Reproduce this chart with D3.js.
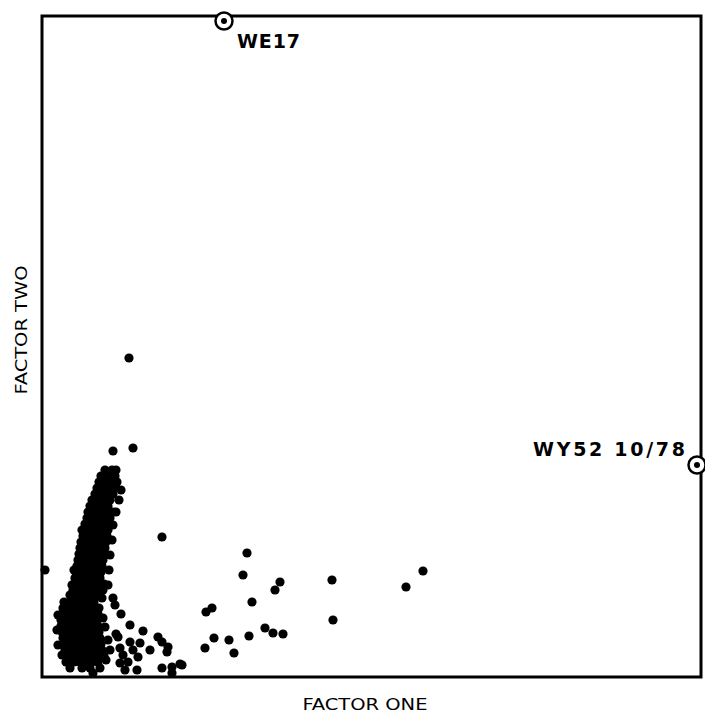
<!DOCTYPE html>
<html>
<head>
<meta charset="utf-8">
<script src="https://cdn.jsdelivr.net/npm/d3@7"></script>
<style>
  body { margin: 0; background: #fff; }
  .axislabel { font-family: "Liberation Sans Narrow", "DejaVu Sans Condensed", sans-serif; font-size: 16px; fill: #000; }
  .tag { font-family: "DejaVu Sans", sans-serif; font-weight: bold; font-size: 19px; fill: #000; }
</style>
</head>
<body>
<script>
// Factor scores (x100)

// dense column of samples, left side
var mainCluster = [
  [63,207],[70,207],[74,207],
  [59,201],[66,201],[73,201],
  [57,195],[63,195],[69,195],[75,195],
  [55,189],[61,189],[68,189],[73,189],[79,187],
  [53,183],[59,183],[65,183],[71,183],
  [50,177],[56,177],[62,177],[68,177],[77,177],
  [48,171],[54,171],[60,171],[66,171],
  [46,165],[52,165],[58,165],[64,165],[71,165],[74,165],
  [45,159],[51,159],[57,159],[63,159],[68,159],
  [43,153],[49,153],[55,153],[61,153],[67,153],[71,152],
  [42,147],[48,147],[54,147],[60,147],[66,147],[40,147],
  [41,141],[47,141],[53,141],[59,141],[65,141],[70,137],
  [39,135],[45,135],[51,135],[57,135],[64,135],
  [38,129],[44,129],[50,129],[56,129],[63,129],
  [37,123],[43,123],[49,123],[55,123],[62,123],[68,122],
  [36,117],[42,117],[48,117],[54,117],[61,117],
  [35,111],[41,111],[47,111],[53,111],[60,111],[32,107],[67,107],
  [34,105],[40,105],[46,105],[52,105],[59,105],
  [33,99],[39,99],[45,99],[51,99],[58,99],
  [32,93],[38,93],[44,93],[50,93],[57,93],[62,93],[30,92],[66,92],
  [31,87],[37,87],[43,87],[49,87],[56,87],[61,87],
  [31,81],[37,81],[43,81],[49,81],[55,81],[28,82],
  [22,75],[28,75],[34,75],[40,75],[46,75],[52,75],
  [21,69],[27,69],[33,69],[39,69],[45,69],[51,69],[57,69],
  [20,63],[26,63],[32,63],[38,63],[44,63],[50,63],[56,63],[16,62],
  [19,57],[25,57],[31,57],[37,57],[43,57],[49,57],[55,57],
  [19,51],[25,51],[31,51],[37,51],[43,51],[49,51],[56,51],
  [20,45],[26,45],[32,45],[38,45],[44,45],[50,45],[57,45],[15,47],
  [21,39],[27,39],[33,39],[39,39],[45,39],[51,39],[58,39],[66,37],
  [22,33],[28,33],[34,33],[40,33],[46,33],[52,33],[59,33],[16,32],
  [23,27],[29,27],[35,27],[41,27],[47,27],[53,27],[60,27],[68,27],
  [26,21],[32,21],[38,21],[44,21],[50,21],[56,21],[62,21],[20,22],
  [32,15],[38,15],[44,15],[50,15],[56,15],[24,15],[64,17],
  [40,9],[48,9],[51,4],[28,9],[58,9]
];

// samples trailing off to the lower right of the column
var trailPoints = [
  [60,79],[71,79],[73,72],[79,63],[61,59],[63,50],[88,52],[101,46],
  [74,43],[76,40],[88,35],[98,34],[116,40],[120,35],[126,30],[108,27],
  [125,25],[78,29],[81,22],[91,27],[96,20],[86,15],[78,14],[95,7],
  [83,7],[120,9],[130,10],[138,13],[130,4]
];

// scattered samples
var outlierPoints = [
  [71,226],[91,229],[87,319],[3,107],[120,140],
  [205,124],[201,102],[238,95],[233,87],[210,75],[170,69],[164,65],
  [290,97],[381,106],[364,90],[291,57],[223,49],[231,44],[241,43],
  [207,41],[172,39],[187,37],[163,29],[192,24],[140,12]
];

// circled samples
var flaggedNames = ["WE17", "WY52 10/78"];
var flaggedOne = [182, 655];
var flaggedTwo = [656, 212];

//Define Margin
var margin = {left: 42, right: 4, top: 16, bottom: 37},
    width = 705 - margin.left - margin.right,
    height = 714 - margin.top - margin.bottom;

//Define SVG
var root = d3.select("body")
    .append("svg")
    .attr("width", 705)
    .attr("height", 714);

var svg = root.append("g")
    .attr("transform", "translate(" + margin.left + "," + margin.top + ")");

//Define Scales
var xScale = d3.scaleLinear().domain([0, 659]).range([0, width]);
var yScale = d3.scaleLinear().domain([0, 661]).range([height, 0]);

var allPoints = mainCluster.concat(trailPoints, outlierPoints);

//Draw Scatterplot
svg.selectAll(".dot")
    .data(allPoints)
    .enter().append("circle")
    .attr("class", "dot")
    .attr("r", 4.6)
    .attr("cx", function(d) { return xScale(d[0]); })
    .attr("cy", function(d) { return yScale(d[1]); })
    .style("fill", "#000");

//Frame
svg.append("rect")
    .attr("x", 0)
    .attr("y", 0)
    .attr("width", width)
    .attr("height", height)
    .attr("fill", "none")
    .attr("stroke", "#000")
    .attr("stroke-width", 3);

//Circled samples
var flagged = flaggedNames.map(function(n, i) {
    return {name: n, one: flaggedOne[i], two: flaggedTwo[i]};
});

svg.selectAll(".ring")
    .data(flagged)
    .enter().append("circle")
    .attr("class", "ring")
    .attr("r", 8.5)
    .attr("cx", function(d) { return xScale(d.one); })
    .attr("cy", function(d) { return yScale(d.two); })
    .attr("fill", "#fff")
    .attr("stroke", "#000")
    .attr("stroke-width", 2.5);

svg.selectAll(".flagdot")
    .data(flagged)
    .enter().append("circle")
    .attr("class", "flagdot")
    .attr("r", 3)
    .attr("cx", function(d) { return xScale(d.one); })
    .attr("cy", function(d) { return yScale(d.two); })
    .attr("fill", "#000");

svg.append("text")
    .attr("class", "tag")
    .attr("x", xScale(flagged[0].one) + 13)
    .attr("y", yScale(flagged[0].two) + 27)
    .attr("textLength", 63)
    .attr("lengthAdjust", "spacing")
    .text(flagged[0].name);

svg.append("text")
    .attr("class", "tag")
    .attr("x", xScale(flagged[1].one) - 164)
    .attr("y", yScale(flagged[1].two) - 9)
    .attr("textLength", 152)
    .attr("lengthAdjust", "spacing")
    .text(flagged[1].name);

//Axis titles
svg.append("text")
    .attr("class", "axislabel")
    .attr("x", 323)
    .attr("y", height + 33)
    .style("text-anchor", "middle")
    .attr("textLength", 125)
    .attr("lengthAdjust", "spacingAndGlyphs")
    .text("FACTOR ONE");

svg.append("text")
    .attr("class", "axislabel")
    .attr("transform", "rotate(-90)")
    .attr("x", -314)
    .attr("y", -15)
    .style("text-anchor", "middle")
    .attr("textLength", 129)
    .attr("lengthAdjust", "spacingAndGlyphs")
    .text("FACTOR TWO");
</script>
</body>
</html>
